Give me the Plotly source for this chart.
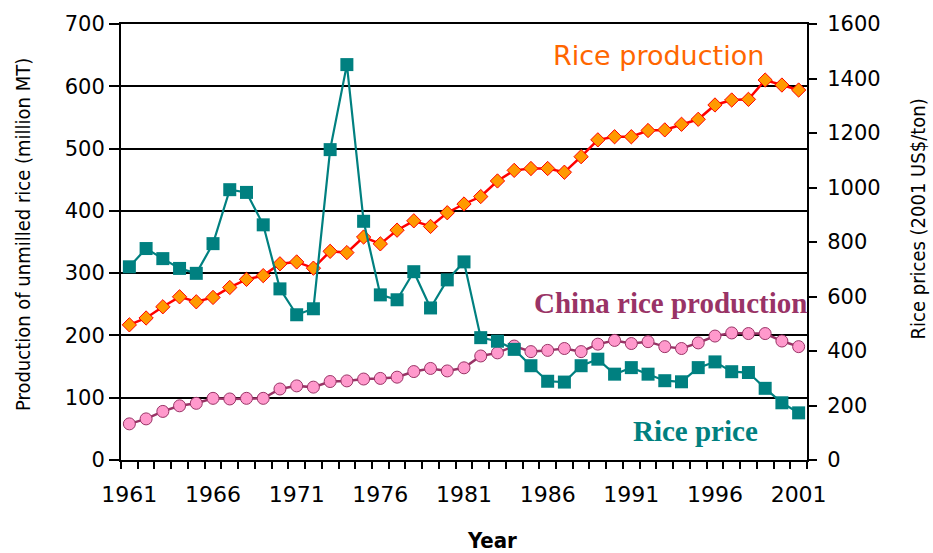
import plotly.graph_objects as go

years = list(range(1961, 2002))

# World production of unmilled rice, million metric tons
world_production = [
    217, 228, 246, 262, 254, 261, 277, 290, 296, 315,
    318, 308, 335, 333, 358, 347, 369, 384, 375, 397,
    411, 423, 448, 465, 468, 468, 462, 487, 514, 519,
    519, 529, 530, 539, 547, 570, 578, 579, 610, 602,
    594,
]

# China production of unmilled rice, million metric tons
china_production = [
    58, 66, 78, 87, 91, 99, 98, 99, 99, 114,
    119, 117, 126, 127, 130, 131, 133, 142, 147, 143,
    148, 167, 172, 183, 174, 176, 179, 174, 186, 192,
    187, 190, 182, 179, 188, 199, 204, 203, 203, 191,
    182,
]

# Rice price, 2001 US$ per ton
rice_price = [
    709, 776, 739, 703, 685, 794, 992, 982, 863, 628,
    533, 555, 1139, 1451, 876, 606, 588, 691, 558, 661,
    727, 449, 436, 406, 346, 289, 286, 346, 370, 315,
    339, 315, 291, 287, 339, 360, 324, 321, 263, 210,
    173,
]

year_labels = [1961, 1966, 1971, 1976, 1981, 1986, 1991, 1996, 2001]
left_ticks = [0, 100, 200, 300, 400, 500, 600, 700]
right_ticks = [0, 200, 400, 600, 800, 1000, 1200, 1400, 1600]

sans = "DejaVu Sans, Verdana, sans-serif"
sans_cond = "DejaVu Sans Condensed, Liberation Sans Narrow, DejaVu Sans, sans-serif"
serif = "Liberation Serif, Times New Roman, serif"

fig = go.Figure()

fig.add_trace(go.Scatter(
    x=years, y=china_production, mode="lines+markers", name="China rice production",
    line=dict(color="#993366", width=2.5),
    marker=dict(symbol="circle", size=12, color="#FF99CC",
                line=dict(color="#993366", width=1)),
    yaxis="y",
))

fig.add_trace(go.Scatter(
    x=years, y=world_production, mode="lines+markers", name="Rice production",
    line=dict(color="#FF0000", width=2.5),
    marker=dict(symbol="diamond", size=11, color="#FF9900",
                line=dict(color="#FF0000", width=1)),
    yaxis="y",
))

fig.add_trace(go.Scatter(
    x=years, y=rice_price, mode="lines+markers", name="Rice price",
    line=dict(color="#008080", width=2.2),
    marker=dict(symbol="square", size=13, color="#008080",
                line=dict(color="#008080", width=0)),
    yaxis="y2",
))

fig.update_layout(
    width=933, height=553,
    margin=dict(l=121, r=126, t=20, b=93),
    paper_bgcolor="white", plot_bgcolor="white",
    showlegend=False,
    xaxis=dict(
        range=[1960.5, 2001.5],
        tickmode="array", tickvals=year_labels,
        ticktext=[str(y) for y in year_labels],
        ticks="", ticklabelstandoff=14,
        tickfont=dict(family=sans, size=22, color="black"),
        showgrid=False, zeroline=False,
        showline=True, linecolor="black", linewidth=2, mirror=True,
        minor=dict(tick0=1960.5, dtick=1, ticks="outside", ticklen=7,
                   tickwidth=1.5, tickcolor="black", showgrid=False),
    ),
    yaxis=dict(
        range=[0, 700], tickmode="array", tickvals=left_ticks,
        ticks="outside", ticklen=10, tickwidth=2, tickcolor="black",
        tickfont=dict(family=sans, size=21, color="black"),
        showgrid=True, gridcolor="black", gridwidth=2,
        zeroline=False, showline=True, linecolor="black", linewidth=2,
    ),
    yaxis2=dict(
        range=[0, 1600], tickmode="array", tickvals=right_ticks,
        overlaying="y", side="right",
        ticks="outside", ticklen=8, tickwidth=2, tickcolor="black",
        tickfont=dict(family=sans, size=21, color="black"),
        ticklabelstandoff=6,
        showgrid=False, zeroline=False,
        showline=True, linecolor="black", linewidth=2,
    ),
)

annotations = [
    dict(text="Production of unmilled rice (million MT)", x=-0.143, y=0.518,
         textangle=-90, font=dict(family=sans_cond, size=20, color="black")),
    dict(text="Rice prices (2001 US$/ton)", x=1.162, y=0.552,
         textangle=-90, font=dict(family=sans_cond, size=20, color="black")),
    dict(text="<b>Year</b>", x=0.541, y=-0.184,
         font=dict(family=sans_cond, size=22, color="black")),
    dict(text="Rice production", x=0.783, y=0.927,
         font=dict(family=sans, size=27, color="#FF6600")),
    dict(text="<b>China rice production</b>", x=0.801, y=0.359,
         font=dict(family=serif, size=29, color="#993366")),
    dict(text="<b>Rice price</b>", x=0.8375, y=0.066,
         font=dict(family=serif, size=29, color="#008080")),
]
for a in annotations:
    a.update(xref="paper", yref="paper", showarrow=False,
             xanchor="center", yanchor="middle")
fig.update_layout(annotations=annotations)

fig.write_html("out.html")
